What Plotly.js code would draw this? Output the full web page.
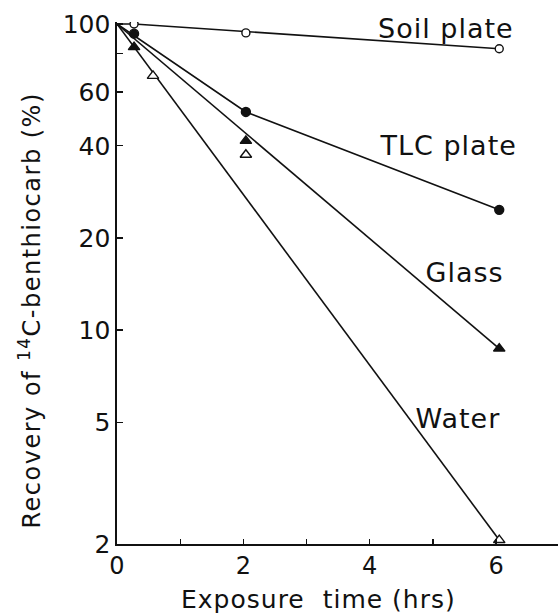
<!DOCTYPE html>
<html>
<head>
<meta charset="utf-8">
<script src="https://cdn.plot.ly/plotly-3.0.1.min.js"></script>
<style>
  html, body { margin: 0; padding: 0; background: #fff; }
  #chart { width: 558px; height: 615px; }
  #chart .annotation-text { letter-spacing: 1px; }
  #chart .annotation.ytitle-ann .annotation-text { letter-spacing: 1.5px; }
</style>
</head>
<body>
<div id="chart"></div>
<script>
// Exposure times (hrs) at which recovery was measured
const timeSoil  = [0.27, 2.04, 6.05];
const timeTLC   = [0.27, 2.04, 6.05];
const timeGlass = [0.27, 2.04, 6.05];
const timeWater = [0.57, 2.04, 6.05];

// Recovery of 14C-benthiocarb (%)
const soilPlate = [100, 93.5, 83];
const tlcPlate  = [93, 51.6, 24.7];
const glass     = [84, 41.5, 8.7];
const water     = [67.7, 37.4, 2.06];

// Drawn decay lines (start at 100 % at time 0)
const lineSoilT  = [0, 0.27, 6.05];
const lineSoilY  = [100, 100, 83];
const lineTLCT   = [0, 2.04, 6.05];
const lineTLCY   = [100, 51.6, 24.7];
const lineGlassT = [0, 6.05];
const lineGlassY = [100, 8.7];
const lineWaterT = [0, 6.05];
const lineWaterY = [100, 2.06];

// Axis ticks
const yTickVals  = [2, 5, 10, 20, 40, 60, 100];
const yTickText  = ["2", "5", "10", "20", "40", "60", "100"];
const yMinorVals = [80];
const xTickVals  = [0, 2, 4, 6];
const xTickText  = ["0", "2", "4", "6"];
const xMinorVals = [1, 3, 5];

// Texts
const seriesNames = ["Soil plate", "TLC plate", "Glass", "Water"];
const xTitle = "Exposure  time (hrs)";
const yTitle = "Recovery of <sup>14</sup>C-benthiocarb (%)";

const FONT = "DejaVu Sans, sans-serif";
const ink = "#111";

function lineTrace(x, y) {
  return { x: x, y: y, type: "scatter", mode: "lines",
           line: { color: ink, width: 1.6 }, hoverinfo: "skip", showlegend: false };
}
function markerTrace(x, y, name, symbol, size, fill) {
  return { x: x, y: y, type: "scatter", mode: "markers", name: name,
           marker: { symbol: symbol, size: size, color: fill,
                     line: { color: ink, width: 1.4 } }, showlegend: false };
}

const data = [
  lineTrace(lineSoilT, lineSoilY),
  lineTrace(lineTLCT, lineTLCY),
  lineTrace(lineGlassT, lineGlassY),
  lineTrace(lineWaterT, lineWaterY),
  markerTrace(timeSoil, soilPlate, seriesNames[0], "circle", 8, "#fff"),
  markerTrace(timeTLC, tlcPlate, seriesNames[1], "circle", 9, ink),
  markerTrace(timeGlass, glass, seriesNames[2], "triangle-up", 10, ink),
  markerTrace(timeWater, water, seriesNames[3], "triangle-up", 10, "#fff")
];

function label(text, x, y) {
  return { text: text, xref: "paper", yref: "paper", x: x, y: y,
           xanchor: "left", yanchor: "middle", showarrow: false,
           font: { family: FONT, size: 27, color: ink } };
}

const layout = {
  width: 558, height: 615,
  margin: { l: 117, r: 0, t: 22, b: 71 },
  paper_bgcolor: "#fff", plot_bgcolor: "#fff",
  font: { family: FONT, color: ink, size: 25 },
  showlegend: false,
  xaxis: {
    range: [0, 6.98], tickmode: "array", tickvals: xTickVals, ticktext: xTickText,
    ticks: "inside", ticklen: 5, tickwidth: 1.3, tickcolor: ink,
    minor: { tickmode: "array", tickvals: xMinorVals, ticks: "inside", ticklen: 5, tickwidth: 1.3, tickcolor: ink, showgrid: false },
    showline: true, linecolor: ink, linewidth: 1.6, showgrid: false, zeroline: false,
    tickfont: { family: FONT, size: 24, color: ink }
  },
  yaxis: {
    type: "log", range: [Math.log10(2), Math.log10(100) + 0.0065],
    tickmode: "array", tickvals: yTickVals, ticktext: yTickText,
    ticks: "inside", ticklen: 6, tickwidth: 1.3, tickcolor: ink,
    minor: { tickmode: "array", tickvals: yMinorVals, ticks: "inside", ticklen: 6, tickwidth: 1.3, tickcolor: ink, showgrid: false },
    showline: true, linecolor: ink, linewidth: 1.6, showgrid: false, zeroline: false,
    tickfont: { family: FONT, size: 25, color: ink }
  },
  annotations: [
    label(seriesNames[0], 0.598, 0.988),
    label(seriesNames[1], 0.600, 0.764),
    label(seriesNames[2], 0.700, 0.521),
    label(seriesNames[3], 0.677, 0.241),
    { text: xTitle, xref: "paper", yref: "paper", x: 0.458, y: -0.106,
      xanchor: "center", yanchor: "middle", showarrow: false,
      font: { family: FONT, size: 25, color: ink } },
    { text: yTitle, xref: "paper", yref: "paper", x: -0.197, y: 0.448, textangle: -90,
      xanchor: "center", yanchor: "middle", showarrow: false, name: "ytitle",
      font: { family: FONT, size: 24, color: ink } }
  ]
};

Plotly.newPlot("chart", data, layout, { staticPlot: true, displayModeBar: false }).then(function () {
  // widen letter spacing on the y title (last annotation), like the reference lettering
  const anns = document.querySelectorAll("#chart .annotation");
  const last = anns[anns.length - 1];
  if (last) last.classList.add("ytitle-ann");
});
</script>
</body>
</html>
